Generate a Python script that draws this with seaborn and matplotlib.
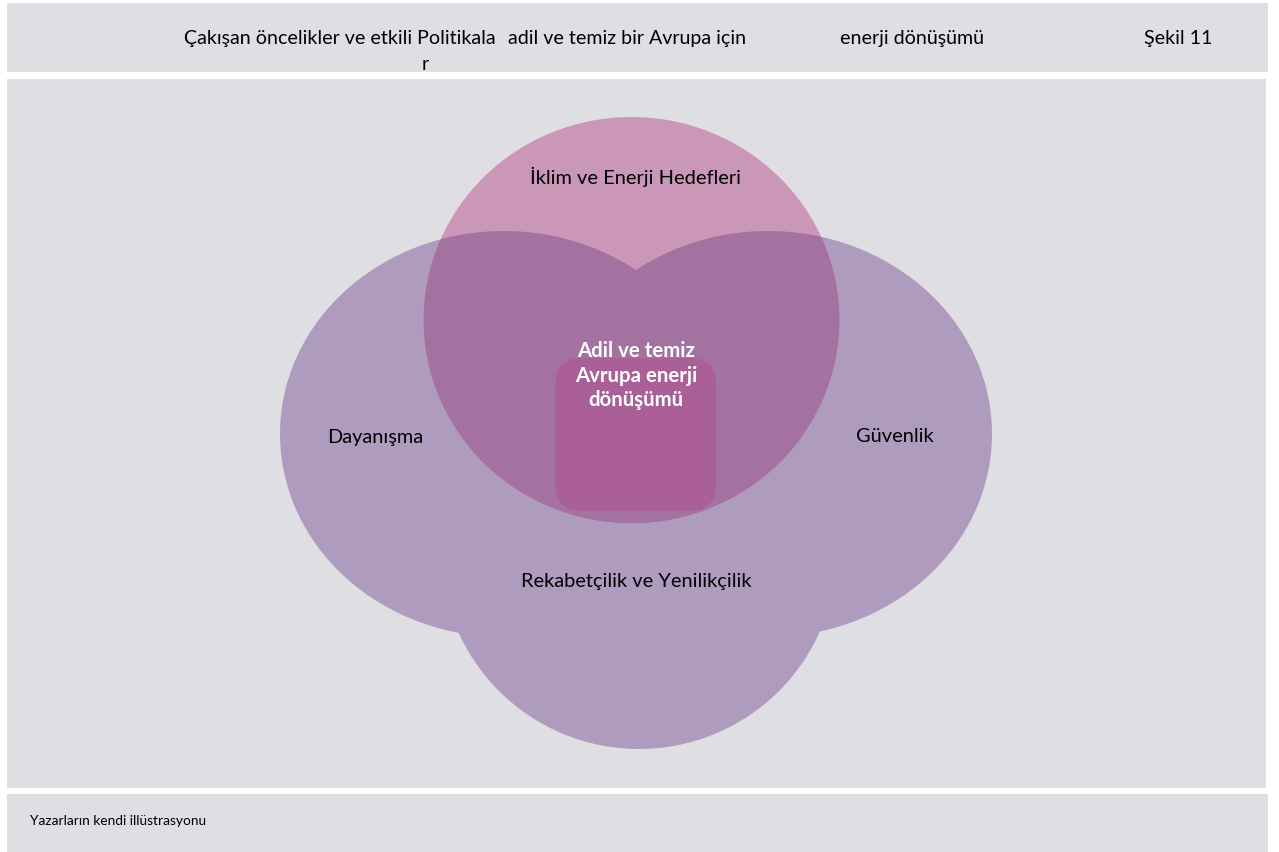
import matplotlib.pyplot as plt
import seaborn as sns
from matplotlib.patches import Ellipse, FancyBboxPatch, Rectangle

# texts of the figure
HEADER_PARTS = ["Çakışan öncelikler ve etkili Politikala", "r",
                "adil ve temiz bir Avrupa için", "enerji dönüşümü", "Şekil 11"]
SET_LABELS = ["İklim ve Enerji Hedefleri", "Dayanışma", "Güvenlik",
              "Rekabetçilik ve Yenilikçilik"]
CORE_LABEL = ["Adil ve temiz", "Avrupa enerji", "dönüşümü"]
SOURCE = "Yazarların kendi illüstrasyonu"

# colours
PANEL = "#dfdee3"
PURPLE = "#af9bbe"
PINK = "#ca97b9"
OVERLAP = "#a472a1"
CORE = "#aa6097"

W, H = 1279, 853

sns.set_theme(style="white")
plt.rcParams["font.family"] = ["Lato", "DejaVu Sans"]

fig = plt.figure(figsize=(W / 100, H / 100), dpi=100)
ax = fig.add_axes([0, 0, 1, 1])
ax.set_xlim(0, W)
ax.set_ylim(H, 0)
ax.axis("off")

# grey bands: header, drawing area, source
for y0, y1, x1 in [(4, 73, 1268), (80, 788.5, 1266), (795, 853, 1268)]:
    ax.add_patch(Rectangle((7, y0), x1 - 7, y1 - y0, color=PANEL, lw=0, zorder=0))

# the three purple sets (centre, width, height)
sets = [((504, 435), 448, 406),   # Dayanışma
        ((768, 435), 448, 406),   # Güvenlik
        ((639, 552), 396, 396)]   # Rekabetçilik
for c, w, h in sets:
    ax.add_patch(Ellipse(c, w, h, color=PURPLE, lw=0, zorder=1))

# climate circle on top, overlap drawn darker inside it
top = Ellipse((631.5, 321), 416, 406, color=PINK, lw=0, zorder=2)
ax.add_patch(top)
for c, w, h in sets:
    shade = Ellipse(c, w, h, color=OVERLAP, lw=0, zorder=3)
    ax.add_patch(shade)
    shade.set_clip_path(top)

core = FancyBboxPatch((555.5, 359), 160.5, 152.5,
                      boxstyle="round,pad=0,rounding_size=26",
                      color=CORE, lw=0, zorder=4)
ax.add_patch(core)

# labels
lbl = dict(fontsize=14.4, color="black", ha="center", va="center", zorder=5)
ax.text(636, 177, SET_LABELS[0], **lbl)
ax.text(375, 437, SET_LABELS[1], **lbl)
ax.text(895, 437, SET_LABELS[2], **lbl)
ax.text(636, 581, SET_LABELS[3], **lbl)

for i, line in enumerate(CORE_LABEL):
    ax.text(636, 351 + i * 24.5, line, fontsize=14.7, fontweight="bold",
            color="white", ha="center", va="center", zorder=5)

# header
hdr = dict(fontsize=14.1, color="black", va="center", zorder=5)
ax.text(184.5, 38, HEADER_PARTS[0], ha="left", **hdr)
ax.text(425.5, 64, HEADER_PARTS[1], ha="center", **hdr)
ax.text(508, 38, HEADER_PARTS[2], ha="left", **hdr)
ax.text(840, 38, HEADER_PARTS[3], ha="left", **hdr)
ax.text(1212, 38, HEADER_PARTS[4], ha="right", **hdr)

ax.text(30, 821, SOURCE, fontsize=9.9, color="black", ha="left", va="center", zorder=5)

fig.savefig("out.png", dpi=100, facecolor="white")
